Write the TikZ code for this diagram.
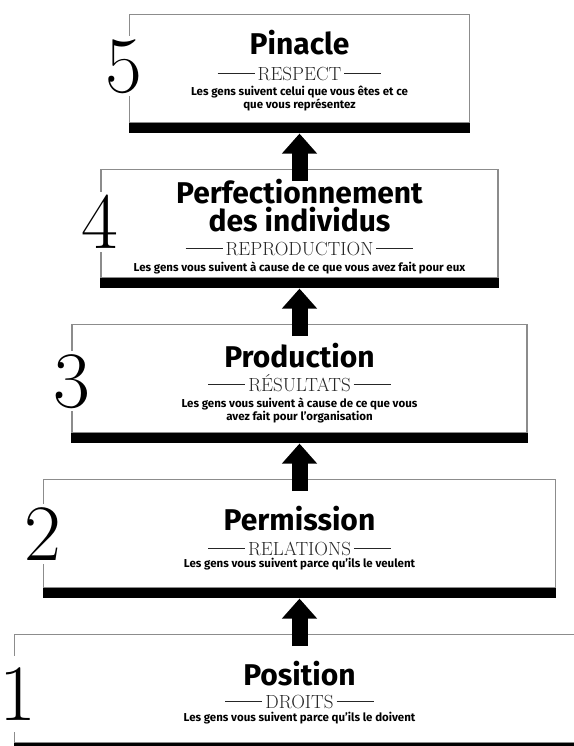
\documentclass[tikz,border=0pt]{standalone}
\usepackage{fontspec}
\newfontfamily\firafont{Fira Sans}
\usetikzlibrary{arrows.meta}
\tikzset{
  box/.style={draw=black!45, line width=1.1bp, minimum width=#1, minimum height=108bp, inner sep=0pt, anchor=north, fill=white},
  ttl/.style={anchor=base, inner sep=0pt, font=\firafont\bfseries\fontsize{30bp}{30bp}\selectfont},
  subt/.style={anchor=base, inner sep=0pt, text=black!85, font=\fontsize{19bp}{19bp}\selectfont},
  desc/.style={anchor=base, inner sep=0pt, font=\firafont\bfseries\fontsize{11.5bp}{13bp}\selectfont},
  num/.style={anchor=base, fill=white, inner xsep=1bp, inner ysep=4bp, text height=52bp, text depth=0bp, font=\fontsize{80bp}{80bp}\selectfont},
  barfill/.style={fill=black},
  uparrow/.style={line width=16bp, -{Triangle[width=34bp,length=20bp]}},
}
\newcommand{\subline}[1]{\rule[6.5bp]{37bp}{0.8bp}\hspace{3bp}#1\hspace{3bp}\rule[6.5bp]{37bp}{0.8bp}}
\begin{document}
\begin{tikzpicture}[x=1bp,y=-1bp]
\useasboundingbox (0,0) rectangle (574,746);
\clip (0,0) rectangle (574,746);
% boxes
\node[box=340bp] (b5) at (299.5,14) {};
\node[box=397bp] (b4) at (299.5,169) {};
\node[box=455bp] (b3) at (299.5,324) {};
\node[box=512bp] (b2) at (299.5,479) {};
\node[box=570bp] (b1) at (299.5,634) {};
% bars
\foreach \b in {b5,b4,b3,b2,b1}{
  \fill[barfill] (\b.south west) rectangle ([yshift=-10bp]\b.south east);
}
% arrow tips
\coordinate (a5) at ([yshift=-10.5bp]b5.south);
\coordinate (a4) at ([yshift=-10.5bp]b4.south);
\coordinate (a3) at ([yshift=-10.5bp]b3.south);
\coordinate (a2) at ([yshift=-10.5bp]b2.south);
\draw[uparrow] ([yshift=-12bp]b4.north) -- (a5);
\draw[uparrow] ([yshift=-12bp]b3.north) -- (a4);
\draw[uparrow] ([yshift=-12bp]b2.north) -- (a3);
\draw[uparrow] ([yshift=-12bp]b1.north) -- (a2);
% numbers
\node[num] (n5) at (124,92) {5};
\node[num] (n4) at (99.5,248) {4};
\node[num] (n3) at (71.5,407) {3};
\node[num] (n2) at (42.5,560) {2};
\node[num, inner ysep=12bp] (n1) at (17.5,720) {1};
% box 5
\node[ttl] (t5) at (299.5,55) {Pinacle};
\node[subt] (s5) at (299.5,80) {\subline{RESPECT}};
\node[desc] (d5a) at (299.5,95) {Les gens suivent celui que vous êtes et ce};
\node[desc] (d5b) at (299.5,108) {que vous représentez};
% box 4
\node[ttl] (t4a) at (299.5,203) {Perfectionnement};
\node[ttl] (t4b) at (299.5,231.5) {des individus};
\node[subt] (s4) at (299.5,255) {\subline{REPRODUCTION}};
\node[desc] (d4) at (299.5,271) {Les gens vous suivent à cause de ce que vous avez fait pour eux};
% box 3
\node[ttl] (t3) at (299.5,367) {Production};
\node[subt] (s3) at (299.5,391) {\subline{RÉSULTATS}};
\node[desc] (d3a) at (299.5,407) {Les gens vous suivent à cause de ce que vous};
\node[desc] (d3b) at (299.5,420) {avez fait pour l’organisation};
% box 2
\node[ttl] (t2) at (299.5,530) {Permission};
\node[subt] (s2) at (299.5,555) {\subline{RELATIONS}};
\node[desc] (d2) at (299.5,567) {Les gens vous suivent parce qu’ils le veulent};
% box 1
\node[ttl] (t1) at (299.5,685) {Position};
\node[subt] (s1) at (299.5,708) {\subline{DROITS}};
\node[desc] (d1) at (299.5,721) {Les gens vous suivent parce qu’ils le doivent};
\end{tikzpicture}
\end{document}
